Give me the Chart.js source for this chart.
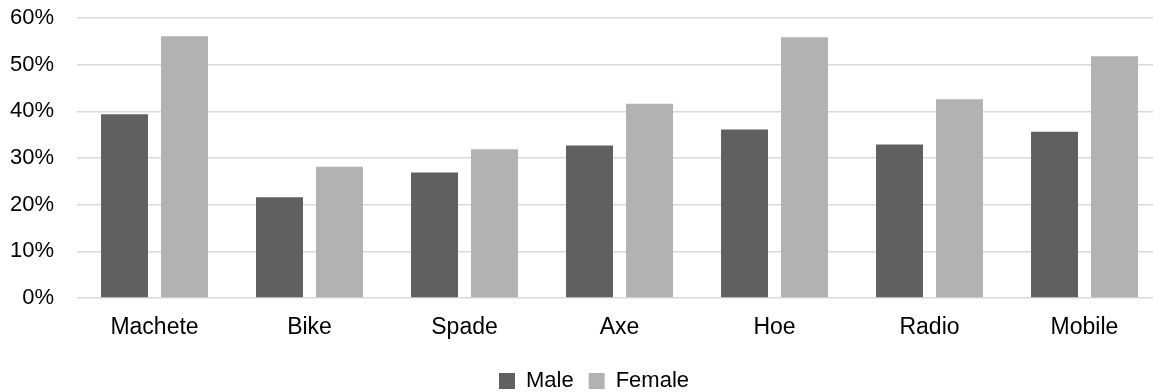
<!DOCTYPE html>
<html>
<head>
<meta charset="utf-8">
<script src="https://cdn.jsdelivr.net/npm/chart.js@4"></script>
<style>
  html, body { margin: 0; padding: 0; background: #fff; overflow: hidden; }
  #wrap { width: 1188px; height: 392px; }
</style>
</head>
<body>
<div id="wrap"><canvas id="c" width="1188" height="392"></canvas></div>
<script>
// Share of respondents owning each item, by sex (%)
const categories = ['Machete', 'Bike', 'Spade', 'Axe', 'Hoe', 'Radio', 'Mobile'];
const maleValues = [39.4, 21.6, 26.9, 32.7, 36.1, 32.9, 35.6];
const femaleValues = [56.1, 28.1, 31.9, 41.6, 55.9, 42.6, 51.8];
const yTicks = [0, 10, 20, 30, 40, 50, 60];

const FONT = "'Liberation Sans', Arial, sans-serif";

// Nudge the legend so it sits centred under the visible part of the chart
const legendShift = {
  id: 'legendShift',
  afterLayout(chart) {
    const lg = chart.legend;
    if (lg) { lg.left += 13; lg.right += 13; }
  }
};

new Chart(document.getElementById('c'), {
  type: 'bar',
  data: {
    labels: categories,
    datasets: [
      { label: 'Male', data: maleValues, backgroundColor: '#606060',
        categoryPercentage: 0.774, barPercentage: 0.783 },
      { label: 'Female', data: femaleValues, backgroundColor: '#b2b2b2',
        categoryPercentage: 0.774, barPercentage: 0.783 }
    ]
  },
  plugins: [legendShift],
  options: {
    responsive: false,
    devicePixelRatio: 1,
    animation: false,
    layout: { padding: { left: 0, right: 26, top: 0, bottom: -10 } },
    plugins: {
      tooltip: { enabled: false },
      legend: {
        position: 'bottom',
        labels: {
          boxWidth: 16, boxHeight: 16, padding: 15,
          color: '#000',
          font: { family: FONT, size: 22 }
        }
      }
    },
    scales: {
      x: {
        offset: true,
        afterFit: (s) => { s.height = 57; },
        grid: { display: false },
        border: { display: false },
        ticks: { color: '#000', padding: 8, font: { family: FONT, size: 23 }, maxRotation: 0 }
      },
      y: {
        min: 0, max: 60,
        afterFit: (s) => { s.width = 77; s.paddingTop = 18; s.paddingBottom = 0; },
        afterBuildTicks: (s) => { s.ticks = yTicks.map(v => ({ value: v })); },
        grid: { color: '#d9d9d9', lineWidth: 1.5, drawTicks: false },
        border: { display: false },
        ticks: { color: '#000', padding: 23, font: { family: FONT, size: 22 },
                 callback: (v) => v + '%' }
      }
    }
  }
});
</script>
</body>
</html>
